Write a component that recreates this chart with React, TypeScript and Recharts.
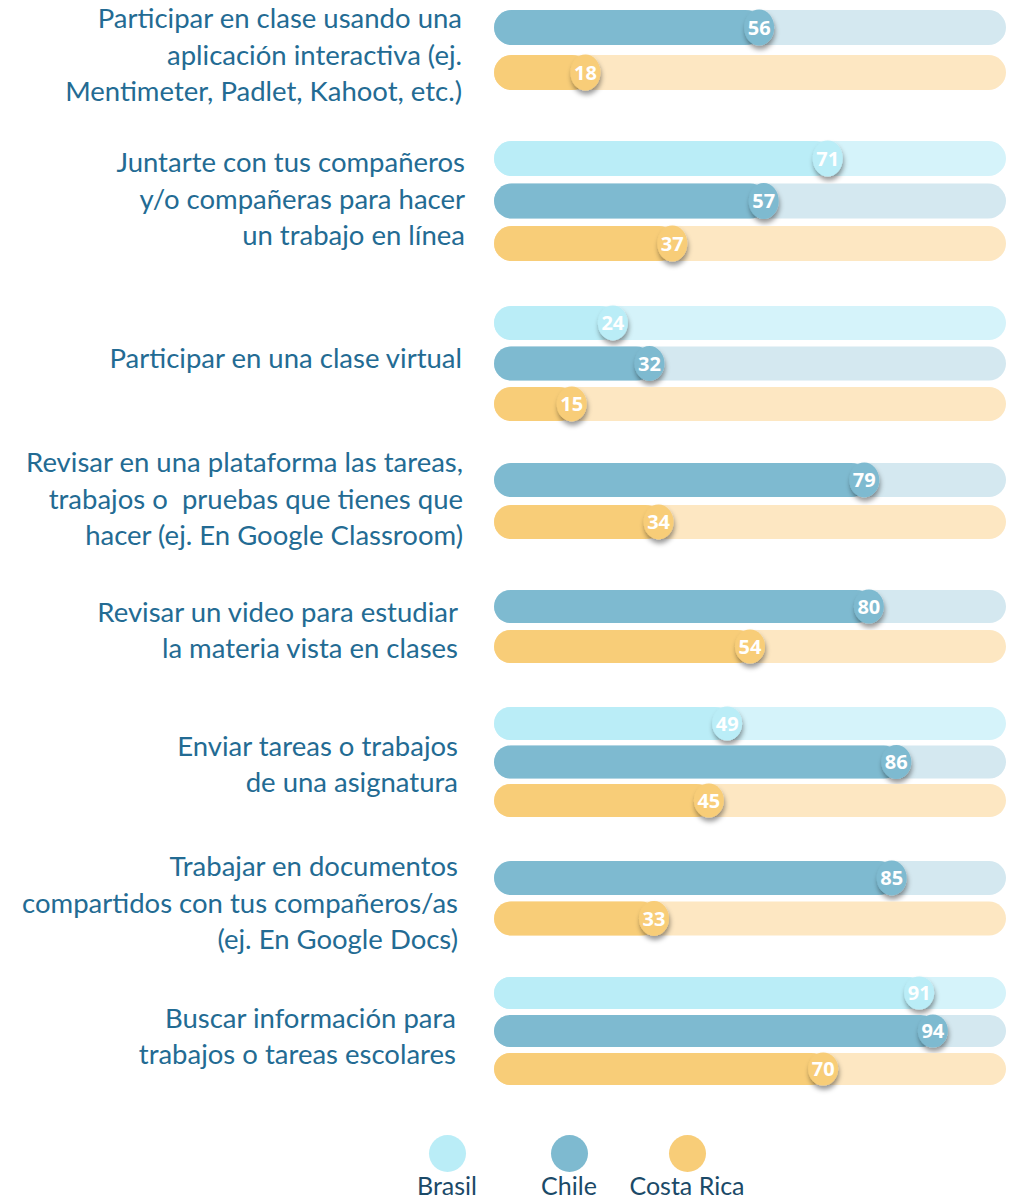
import React from "react";
import { Bar, BarChart, XAxis, YAxis } from "recharts";

// --- data -------------------------------------------------------------
const CATEGORIES = [
  "Participar en clase usando una\naplicación interactiva (ej.\nMentimeter, Padlet, Kahoot, etc.)",
  "Juntarte con tus compañeros\ny/o compañeras para hacer\nun trabajo en línea",
  "Participar en una clase virtual",
  "Revisar en una plataforma las tareas,\ntrabajos o  pruebas que tienes que\nhacer (ej. En Google Classroom)",
  "Revisar un video para estudiar\nla materia vista en clases",
  "Enviar tareas o trabajos\nde una asignatura",
  "Trabajar en documentos\ncompartidos con tus compañeros/as\n(ej. En Google Docs)",
  "Buscar información para\ntrabajos o tareas escolares",
];
const SERIES = ["Brasil", "Chile", "Costa Rica"];
const BRASIL = [null, 71, 24, null, null, 49, null, 91];
const CHILE = [56, 57, 32, 79, 80, 86, 85, 94];
const COSTA_RICA = [18, 37, 15, 34, 54, 45, 33, 70];
const VALUES = [BRASIL, CHILE, COSTA_RICA];

// --- look -------------------------------------------------------------
const COLORS: Record<string, { fill: string; track: string }> = {
  Brasil: { fill: "#BAEDF7", track: "#D5F3FA" },
  Chile: { fill: "#7EBAD0", track: "#D4E8F0" },
  "Costa Rica": { fill: "#F8CD78", track: "#FDE7C2" },
};
const LABEL_COLOR = "#236B93";
const LEGEND_COLOR = "#1B4A68";
const FONT = "Lato, 'Open Sans', sans-serif";

const TRACK_X = 494;
const TRACK_W = 512;
const PAD = 8; // room for the shadows under the dots

// first bar centre, row pitch, bar thickness, label centre / right edge per group
const GROUP_LAYOUT = [
  { first: 27.5, pitch: 45, bar: 35, labelY: 55, labelRight: 462 },
  { first: 158, pitch: 42.5, bar: 35, labelY: 199, labelRight: 465 },
  { first: 323, pitch: 40.5, bar: 34, labelY: 358, labelRight: 462 },
  { first: 480, pitch: 42, bar: 34, labelY: 499, labelRight: 463 },
  { first: 605.5, pitch: 40, bar: 33, labelY: 630, labelRight: 458 },
  { first: 723.5, pitch: 38.5, bar: 33, labelY: 764, labelRight: 458 },
  { first: 878, pitch: 40.5, bar: 34, labelY: 903, labelRight: 458 },
  { first: 993, pitch: 38, bar: 32, labelY: 1036, labelRight: 456 },
];

function Pill(props: any) {
  const { x, y, width, height, payload, background, value } = props;
  const c = COLORS[payload.name];
  const r = height / 2;
  const bx = background?.x ?? 0;
  const bw = background?.width ?? TRACK_W;
  const cx = x + width;
  return (
    <g>
      <rect x={bx} y={y} width={bw} height={height} rx={r} fill={c.track} />
      <rect x={bx} y={y} width={Math.max(cx - bx + 4, height)} height={height} rx={r} fill={c.fill} />
      <ellipse cx={cx} cy={y + r} rx={15} ry={r + 0.5} fill={c.fill} filter="url(#pill-shadow)" />
      <text
        x={cx}
        y={y + r}
        dy="0.36em"
        textAnchor="middle"
        fill="#fff"
        fontSize={20}
        fontWeight={700}
        fontFamily="'Open Sans', sans-serif"
      >
        {value}
      </text>
    </g>
  );
}

function Group({ index }: { index: number }) {
  const lay = GROUP_LAYOUT[index];
  const rows = SERIES.map((name, s) => ({ name, value: VALUES[s][index] })).filter(
    (r) => r.value !== null
  );
  const h = rows.length * lay.pitch + PAD * 2;
  const top = lay.first - lay.pitch / 2 - PAD;
  const lines = CATEGORIES[index].split("\n");
  const lineH = 36.5;
  return (
    <>
      <div
        style={{
          position: "absolute",
          right: 1018 - lay.labelRight,
          top: lay.labelY - (lines.length * lineH) / 2,
          textAlign: "right",
          whiteSpace: "pre",
          fontFamily: FONT,
          fontSize: 27.5,
          lineHeight: `${lineH}px`,
          color: LABEL_COLOR,
        }}
      >
        {CATEGORIES[index]}
      </div>
      <div style={{ position: "absolute", left: TRACK_X, top }}>
        <BarChart
          width={TRACK_W}
          height={h}
          data={rows}
          layout="vertical"
          margin={{ top: PAD, right: 0, bottom: PAD, left: 0 }}
          barSize={lay.bar}
        >
          <XAxis type="number" domain={[-2, 110]} hide />
          <YAxis type="category" dataKey="name" hide />
          <Bar dataKey="value" shape={<Pill />} isAnimationActive={false} />
        </BarChart>
      </div>
    </>
  );
}

const LEGEND_X = [447, 569, 687];

export default function App() {
  return (
    <div
      style={{
        position: "absolute",
        left: 0,
        top: 0,
        width: 1018,
        height: 1202,
        background: "#fff",
        overflow: "hidden",
      }}
    >
      <svg width={0} height={0} style={{ position: "absolute" }}>
        <defs>
          <filter id="pill-shadow" x="-60%" y="-60%" width="220%" height="220%">
            <feDropShadow dx={1} dy={4} stdDeviation={2.5} floodColor="#000" floodOpacity={0.4} />
          </filter>
        </defs>
      </svg>
      {CATEGORIES.map((_, i) => (
        <Group key={i} index={i} />
      ))}
      {SERIES.map((name, i) => (
        <div
          key={name}
          style={{
            position: "absolute",
            left: LEGEND_X[i] - 80,
            width: 160,
            top: 1135,
            display: "flex",
            flexDirection: "column",
            alignItems: "center",
          }}
        >
          <div
            style={{ width: 37, height: 37, borderRadius: "50%", background: COLORS[name].fill }}
          />
          <div
            style={{
              fontFamily: FONT,
              fontSize: 25,
              lineHeight: "28px",
              color: LEGEND_COLOR,
              marginTop: -1,
            }}
          >
            {name}
          </div>
        </div>
      ))}
    </div>
  );
}
